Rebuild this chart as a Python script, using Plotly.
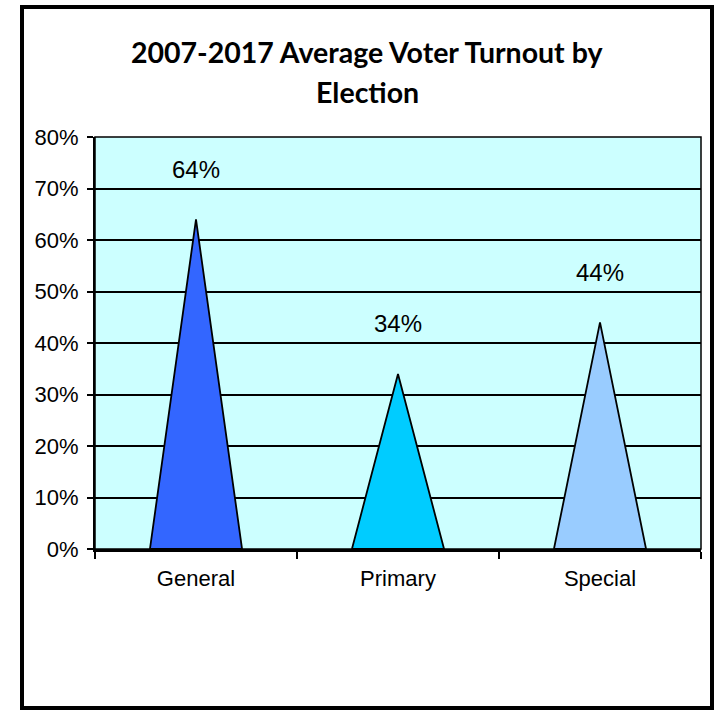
import plotly.graph_objects as go

# Average voter turnout, 2007-2017, by election type
categories = ["General", "Primary", "Special"]
turnout = [0.64, 0.34, 0.44]
colors = ["#3366FF", "#00CCFF", "#99CCFF"]
y_ticks = [0.0, 0.1, 0.2, 0.3, 0.4, 0.5, 0.6, 0.7, 0.8]

title_lines = ["2007-2017 Average Voter Turnout by", "Election"]

W, H = 719, 710
ML, MR, MT, MB = 95, 18, 137, 161
plot_w = W - ML - MR
plot_h = H - MT - MB

HALF_BASE = 0.228  # half width of each cone base, in category units

fig = go.Figure()

for i, (name, v, c) in enumerate(zip(categories, turnout, colors)):
    cx = i + 0.5
    fig.add_trace(go.Scatter(
        x=[cx - HALF_BASE, cx, cx + HALF_BASE, cx - HALF_BASE],
        y=[0, v, 0, 0],
        mode="lines",
        fill="toself",
        fillcolor=c,
        line=dict(color="black", width=1.8),
        name=name,
        hoverinfo="skip",
        showlegend=False,
    ))
    fig.add_annotation(
        x=cx, y=v, xref="x", yref="y",
        text=f"{round(v * 100)}%",
        showarrow=False,
        yanchor="middle",
        yshift=50,
        font=dict(family="Liberation Sans, Arial, sans-serif", size=24, color="black"),
    )


def px_to_paper_x(px):
    return (px - ML) / plot_w


def px_to_paper_y(py):
    return (H - MB - py) / plot_h


# Title, two centred lines
for line, py in zip(title_lines, [52, 92]):
    fig.add_annotation(
        x=px_to_paper_x(367), y=px_to_paper_y(py), xref="paper", yref="paper",
        text=f"<b>{line}</b>", showarrow=False,
        xanchor="center", yanchor="middle",
        font=dict(family="Lato, Open Sans, sans-serif", size=28.5, color="black"),
    )

# Outer frame of the chart
fig.add_shape(
    type="rect", xref="paper", yref="paper",
    x0=px_to_paper_x(22), x1=px_to_paper_x(712),
    y0=px_to_paper_y(708), y1=px_to_paper_y(7),
    line=dict(color="black", width=4),
    fillcolor="rgba(0,0,0,0)",
)
# Plot area border
fig.add_shape(
    type="rect", xref="paper", yref="paper",
    x0=0, x1=1, y0=0, y1=1,
    line=dict(color="black", width=1.5),
    fillcolor="rgba(0,0,0,0)",
)

tick_font = dict(family="Liberation Sans, Arial, sans-serif", size=22, color="black")

fig.update_layout(
    width=W, height=H, autosize=False,
    margin=dict(l=ML, r=MR, t=MT, b=MB, pad=0),
    paper_bgcolor="white",
    plot_bgcolor="#CCFFFF",
    showlegend=False,
    xaxis=dict(
        range=[0, 3],
        tickmode="array",
        tickvals=[0.5, 1.5, 2.5],
        ticktext=categories,
        ticks="",
        ticklabelstandoff=8,
        showgrid=False,
        zeroline=False,
        showline=True,
        linecolor="black",
        linewidth=3,
        tickfont=tick_font,
        minor=dict(
            tickmode="array",
            tickvals=[0, 1, 2, 3],
            ticks="outside",
            ticklen=7,
            tickwidth=2,
            tickcolor="black",
            showgrid=False,
        ),
        fixedrange=True,
    ),
    yaxis=dict(
        range=[0, 0.8],
        tickmode="array",
        tickvals=y_ticks,
        tickformat=".0%",
        ticks="outside",
        ticklen=6,
        tickwidth=2,
        tickcolor="black",
        showgrid=True,
        gridcolor="black",
        gridwidth=1.5,
        zeroline=False,
        showline=True,
        linecolor="black",
        linewidth=2,
        tickfont=tick_font,
        ticklabelstandoff=4,
        fixedrange=True,
    ),
)

fig.write_html("out.html")
